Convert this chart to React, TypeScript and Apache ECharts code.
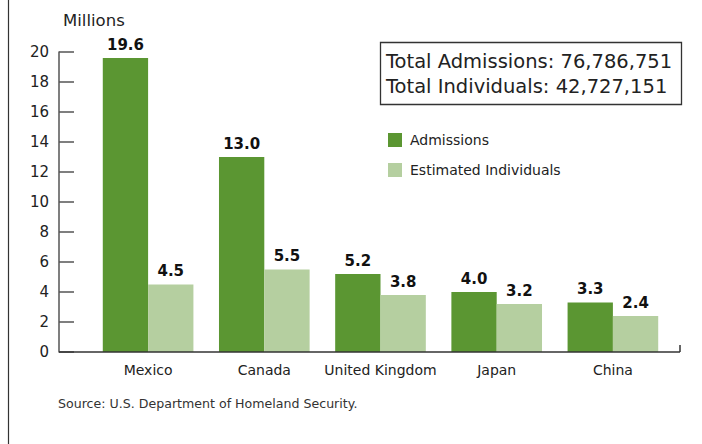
import React, { useEffect, useRef } from "react";
import * as echarts from "echarts";

const categories = ["Mexico", "Canada", "United Kingdom", "Japan", "China"];
const admissions = [19.6, 13.0, 5.2, 4.0, 3.3];
const individuals = [4.5, 5.5, 3.8, 3.2, 2.4];
const seriesNames = ["Admissions", "Estimated Individuals"];
const totals = ["Total Admissions: 76,786,751", "Total Individuals: 42,727,151"];
const sourceText = "Source: U.S. Department of Homeland Security.";

const FONT = "DejaVu Sans";

export default function App() {
  const ref = useRef<HTMLDivElement>(null);
  useEffect(() => {
    document.body.style.margin = "0";
    const chart = echarts.init(ref.current!, null, { renderer: "svg" });
    const labelStyle = {
      show: true,
      position: "top" as const,
      distance: 6,
      fontFamily: FONT,
      fontWeight: "bold" as const,
      fontSize: 15,
      color: "#111",
      formatter: (p: any) => Number(p.value).toFixed(1),
    };
    chart.setOption({
      animation: false,
      textStyle: { fontFamily: FONT },
      grid: { left: 90, right: 31, top: 52, bottom: 92 },
      legend: {
        orient: "vertical",
        left: 388,
        top: 133,
        padding: 0,
        itemWidth: 14,
        itemHeight: 14,
        itemGap: 16,
        icon: "rect",
        data: seriesNames,
        textStyle: { fontFamily: FONT, fontSize: 14, color: "#222", padding: [0, 0, 0, 3] },
      },
      xAxis: {
        type: "category",
        data: categories,
        axisLine: { show: false },
        axisTick: { show: false },
        axisLabel: { interval: 0, fontFamily: FONT, fontSize: 14, color: "#222", margin: 11 },
      },
      yAxis: {
        type: "value",
        min: 0,
        max: 20,
        interval: 2,
        offset: 31,
        name: "Millions",
        nameLocation: "end",
        nameGap: 23,
        nameTextStyle: { fontFamily: FONT, fontSize: 16.5, color: "#222", align: "left", padding: [0, 0, 0, 4] },
        splitLine: { show: false },
        axisLine: { show: true, lineStyle: { color: "#555", width: 1.5 } },
        axisTick: { show: true, inside: true, length: 15, lineStyle: { color: "#555", width: 1.5 } },
        axisLabel: { fontFamily: FONT, fontSize: 15, color: "#222", margin: 10, padding: [7, 0, 0, 0] },
      },
      series: [
        {
          name: seriesNames[0],
          type: "bar",
          data: admissions,
          barGap: "0%",
          barCategoryGap: "22%",
          itemStyle: { color: "#5b9632" },
          label: labelStyle,
        },
        {
          name: seriesNames[1],
          type: "bar",
          data: individuals,
          itemStyle: { color: "#b5cfa0" },
          label: labelStyle,
        },
      ],
      graphic: [
        { type: "line", shape: { x1: 8.5, y1: 0, x2: 8.5, y2: 444 }, style: { stroke: "#333", lineWidth: 1.2 } },
        { type: "line", shape: { x1: 59, y1: 352, x2: 680, y2: 352 }, style: { stroke: "#333", lineWidth: 1.5 }, z: 10 },
        { type: "line", shape: { x1: 680, y1: 345, x2: 680, y2: 352 }, style: { stroke: "#333", lineWidth: 1.5 }, z: 10 },
        { type: "rect", shape: { x: 380.5, y: 42.5, width: 301, height: 62 }, style: { fill: "#fff", stroke: "#333", lineWidth: 1.3 } },
        { type: "text", x: 386, y: 61, style: { text: totals[0], fontFamily: FONT, fontSize: 19.5, fill: "#222", verticalAlign: "middle" } },
        { type: "text", x: 386, y: 86, style: { text: totals[1], fontFamily: FONT, fontSize: 19.5, fill: "#222", verticalAlign: "middle" } },
        { type: "text", x: 58, y: 403, style: { text: sourceText, fontFamily: FONT, fontSize: 12.6, fill: "#333", verticalAlign: "middle" } },
      ],
    });
    return () => chart.dispose();
  }, []);
  return <div ref={ref} style={{ width: 702, height: 444 }} />;
}
